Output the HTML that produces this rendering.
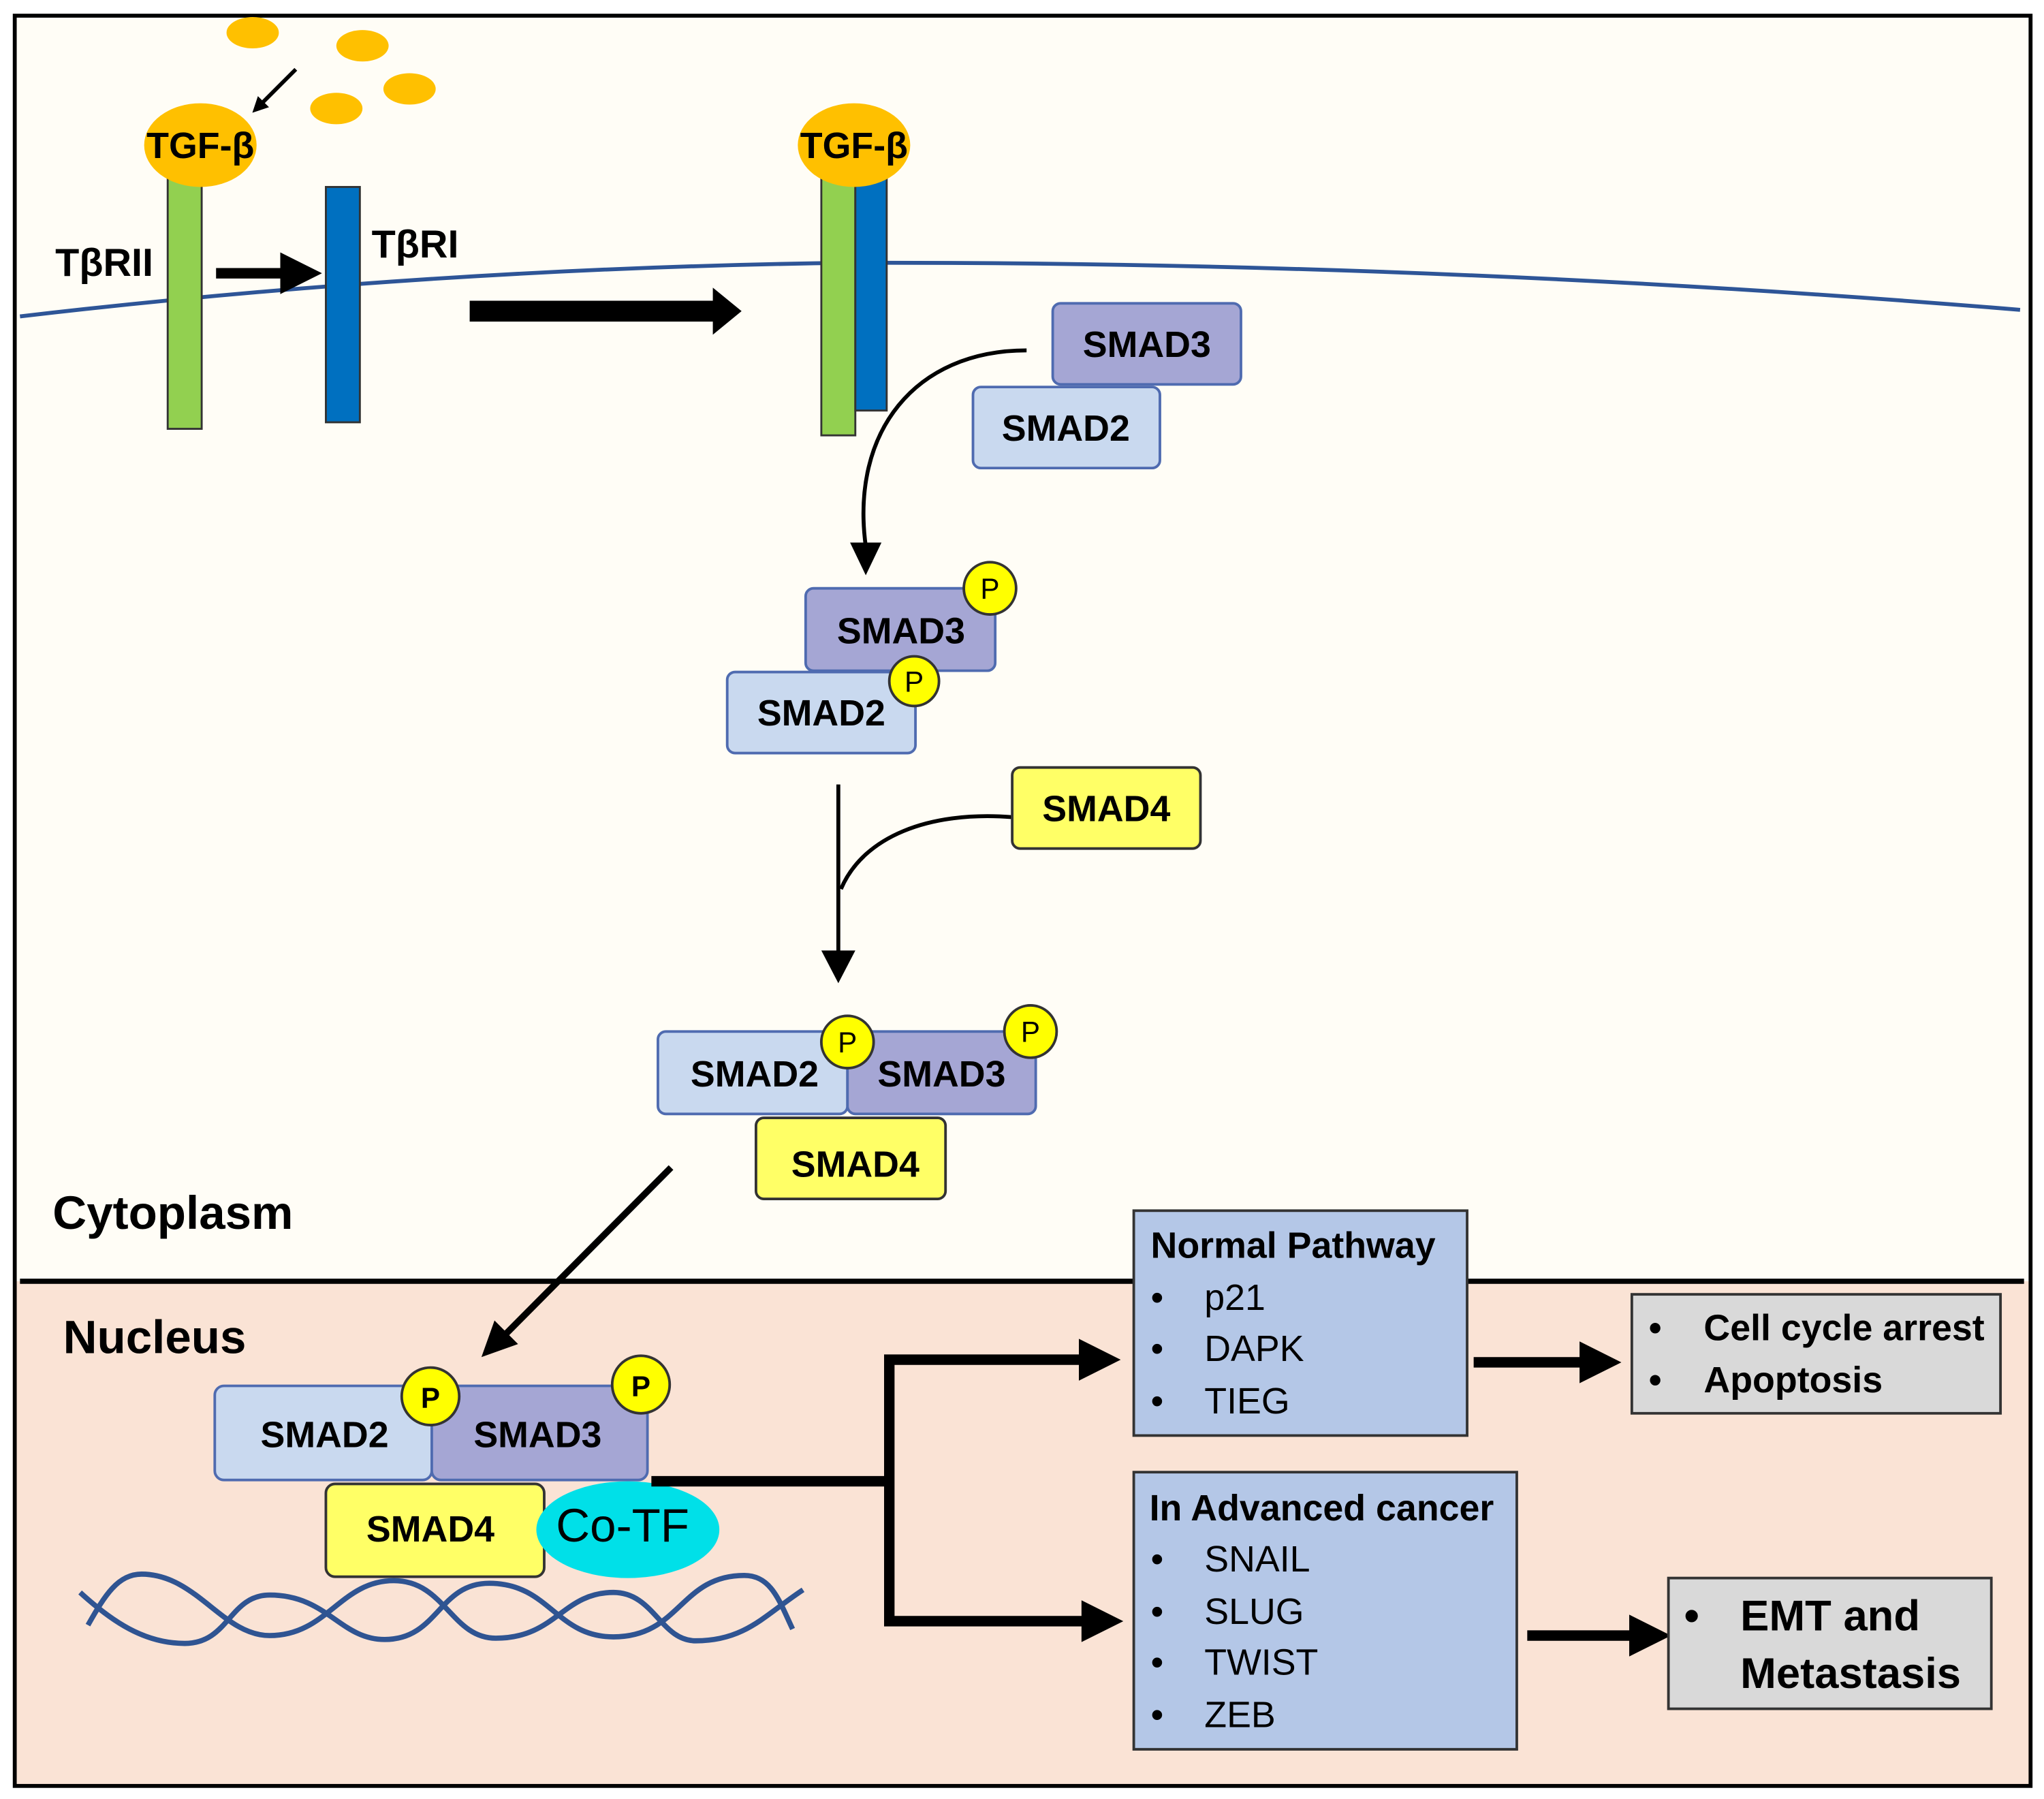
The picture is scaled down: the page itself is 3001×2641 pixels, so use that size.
<!DOCTYPE html>
<html><head><meta charset="utf-8"><style>
html,body{margin:0;padding:0;background:#fff}
svg{display:block}
text{font-family:"Liberation Sans",sans-serif}
</style></head><body>
<svg width="3001" height="2641" viewBox="0 0 1563 1376" xmlns="http://www.w3.org/2000/svg">
<defs>
<marker id="ah" markerWidth="4" markerHeight="4" refX="2" refY="2" orient="auto" markerUnits="strokeWidth"><path d="M0,0 L4,2 L0,4 z" fill="#000"/></marker>
</defs>
<rect x="0" y="0" width="1563" height="1376" fill="#fff"/>
<rect x="11" y="12" width="1542" height="1354" fill="#fffdf6"/>
<rect x="11" y="980" width="1542" height="386" fill="#fae3d5"/>
<rect x="11" y="12" width="1542" height="1354" fill="none" stroke="#000" stroke-width="3"/>
<line x1="15" y1="980" x2="1548" y2="980" stroke="#000" stroke-width="4"/>
<path d="M15,242 Q330,205 650,201 Q1100,200 1545,237" fill="none" stroke="#2e5597" stroke-width="3"/>
<g fill="#ffc000">
<ellipse cx="193" cy="25" rx="20" ry="12"/><ellipse cx="277" cy="35" rx="20" ry="12"/>
<ellipse cx="257" cy="83" rx="20" ry="12"/><ellipse cx="313" cy="68" rx="20" ry="12"/>
</g>
<line x1="226" y1="53" x2="197" y2="82" stroke="#000" stroke-width="3" marker-end="url(#ah)"/>
<rect x="128" y="130" width="26" height="198" fill="#92d050" stroke="#333" stroke-width="1.5"/>
<ellipse cx="153" cy="111" rx="43" ry="32" fill="#ffc000"/>
<text x="153" y="121" font-size="28" font-weight="bold" text-anchor="middle">TGF-β</text>
<rect x="249" y="143" width="26" height="180" fill="#0070c0" stroke="#333" stroke-width="1.5"/>
<text x="42" y="211" font-size="30" font-weight="bold">TβRII</text>
<text x="284" y="197" font-size="30" font-weight="bold">TβRI</text>
<line x1="165" y1="209" x2="230" y2="209" stroke="#000" stroke-width="8" marker-end="url(#ah)"/>
<line x1="359" y1="238" x2="547" y2="238" stroke="#000" stroke-width="16"/>
<path d="M545,220 L567,238 L545,256 z" fill="#000"/>
<rect x="628" y="135" width="26" height="198" fill="#92d050" stroke="#333" stroke-width="1.5"/>
<rect x="654" y="135" width="24" height="179" fill="#0070c0" stroke="#333" stroke-width="1.5"/>
<ellipse cx="653" cy="111" rx="43" ry="32" fill="#ffc000"/>
<text x="653" y="121" font-size="28" font-weight="bold" text-anchor="middle">TGF-β</text>
<g font-size="28" font-weight="bold" text-anchor="middle">
<rect x="805" y="232" width="144" height="62" rx="6" fill="#a5a6d4" stroke="#4f6bb0" stroke-width="2"/>
<text x="877" y="273">SMAD3</text>
<rect x="744" y="296" width="143" height="62" rx="6" fill="#c9d9ef" stroke="#4f6bb0" stroke-width="2"/>
<text x="815" y="337">SMAD2</text>
<path d="M785,268 C700,268 650,330 662,418" fill="none" stroke="#000" stroke-width="3"/>
<path d="M650,415 L674,415 L662,440 z" fill="#000"/>
<rect x="616" y="450" width="145" height="63" rx="6" fill="#a5a6d4" stroke="#4f6bb0" stroke-width="2"/>
<text x="689" y="492">SMAD3</text>
<rect x="556" y="514" width="144" height="62" rx="6" fill="#c9d9ef" stroke="#4f6bb0" stroke-width="2"/>
<text x="628" y="555">SMAD2</text>
<line x1="641" y1="600" x2="641" y2="730" stroke="#000" stroke-width="3"/>
<path d="M628,727 L654,727 L641,752 z" fill="#000"/>
<path d="M774,625 C710,620 660,640 643,680" fill="none" stroke="#000" stroke-width="3"/>
<rect x="774" y="587" width="144" height="62" rx="6" fill="#ffff66" stroke="#333" stroke-width="2"/>
<text x="846" y="628">SMAD4</text>
<rect x="503" y="789" width="145" height="63" rx="6" fill="#c9d9ef" stroke="#4f6bb0" stroke-width="2"/>
<text x="577" y="831">SMAD2</text>
<rect x="648" y="789" width="144" height="63" rx="6" fill="#a5a6d4" stroke="#4f6bb0" stroke-width="2"/>
<text x="720" y="831">SMAD3</text>
<rect x="578" y="855" width="145" height="62" rx="6" fill="#ffff66" stroke="#333" stroke-width="2"/>
<text x="654" y="900">SMAD4</text>
<rect x="164" y="1060" width="166" height="72" rx="7" fill="#c9d9ef" stroke="#4f6bb0" stroke-width="2"/>
<text x="248" y="1107">SMAD2</text>
<rect x="330" y="1060" width="165" height="72" rx="7" fill="#a5a6d4" stroke="#4f6bb0" stroke-width="2"/>
<text x="411" y="1107">SMAD3</text>
<rect x="249" y="1135" width="167" height="71" rx="7" fill="#ffff66" stroke="#333" stroke-width="2"/>
<text x="329" y="1179">SMAD4</text>
</g>
<g fill="#ffff00" stroke="#333" stroke-width="2">
<circle cx="757" cy="450" r="20"/><circle cx="699" cy="521" r="19"/>
<circle cx="648" cy="797" r="20"/><circle cx="788" cy="789" r="20"/>
<circle cx="329" cy="1068" r="22"/><circle cx="490" cy="1059" r="22"/>
</g>
<g font-size="22" text-anchor="middle">
<text x="757" y="458">P</text><text x="699" y="529">P</text>
<text x="648" y="805">P</text><text x="788" y="797">P</text>
<text x="329" y="1077" font-weight="bold">P</text><text x="490" y="1068" font-weight="bold">P</text>
</g>
<ellipse cx="480" cy="1170" rx="70" ry="37" fill="#00e0e8"/>
<text x="476" y="1179" font-size="36" text-anchor="middle">Co-TF</text>
<text x="40" y="940" font-size="36" font-weight="bold">Cytoplasm</text>
<text x="48" y="1035" font-size="36" font-weight="bold">Nucleus</text>
<line x1="513" y1="893" x2="385" y2="1022" stroke="#000" stroke-width="5"/>
<path d="M368,1038 L378,1010 L396,1028 z" fill="#000"/>
<g fill="none" stroke="#2f5492" stroke-width="4">
<path d="M67,1243 C80,1220 90,1204 108,1204 C150,1204 170,1251 206,1251 C250,1251 260,1209 301,1209 C340,1209 345,1253 379,1253 C425,1253 430,1218 469,1218 C500,1218 505,1255 532,1255 C570,1255 585,1235 614,1216"/>
<path d="M61,1218 C85,1240 110,1257 141,1257 C175,1257 175,1220 206,1220 C250,1220 260,1254 294,1254 C335,1254 335,1211 374,1211 C420,1211 425,1252 469,1252 C520,1252 520,1205 569,1205 C590,1205 596,1225 606,1246"/>
</g>
<g stroke="#000" stroke-width="8" fill="none">
<line x1="498" y1="1133" x2="680" y2="1133"/>
<polyline points="830,1040 680,1040 680,1240 832,1240"/>
<line x1="1127" y1="1042" x2="1215" y2="1042"/>
<line x1="1168" y1="1251" x2="1252" y2="1251"/>
</g>
<g fill="#000">
<path d="M825,1024 L857,1040 L825,1056 z"/>
<path d="M827,1224 L859,1240 L827,1256 z"/>
<path d="M1208,1026 L1240,1042 L1208,1058 z"/>
<path d="M1246,1235 L1278,1251 L1246,1267 z"/>
</g>
<rect x="867" y="926" width="255" height="172" fill="#b4c7e7" stroke="#333" stroke-width="2"/>
<g font-size="28">
<text x="880" y="962" font-weight="bold">Normal Pathway</text>
<text x="880" y="1002">•</text><text x="921" y="1002">p21</text>
<text x="880" y="1041">•</text><text x="921" y="1041">DAPK</text>
<text x="880" y="1081">•</text><text x="921" y="1081">TIEG</text>
</g>
<rect x="867" y="1126" width="293" height="212" fill="#b4c7e7" stroke="#333" stroke-width="2"/>
<g font-size="28">
<text x="879" y="1163" font-weight="bold">In Advanced cancer</text>
<text x="880" y="1202">•</text><text x="921" y="1202">SNAIL</text>
<text x="880" y="1242">•</text><text x="921" y="1242">SLUG</text>
<text x="880" y="1281">•</text><text x="921" y="1281">TWIST</text>
<text x="880" y="1321">•</text><text x="921" y="1321">ZEB</text>
</g>
<rect x="1248" y="990" width="282" height="91" fill="#d9d9d9" stroke="#333" stroke-width="2"/>
<g font-size="28" font-weight="bold">
<text x="1261" y="1025">•</text><text x="1303" y="1025">Cell cycle arrest</text>
<text x="1261" y="1065">•</text><text x="1303" y="1065">Apoptosis</text>
</g>
<rect x="1276" y="1207" width="247" height="100" fill="#d9d9d9" stroke="#333" stroke-width="2"/>
<g font-size="33" font-weight="bold">
<text x="1288" y="1247">•</text><text x="1331" y="1247">EMT and</text>
<text x="1331" y="1291">Metastasis</text>
</g>
</svg>
</body></html>
